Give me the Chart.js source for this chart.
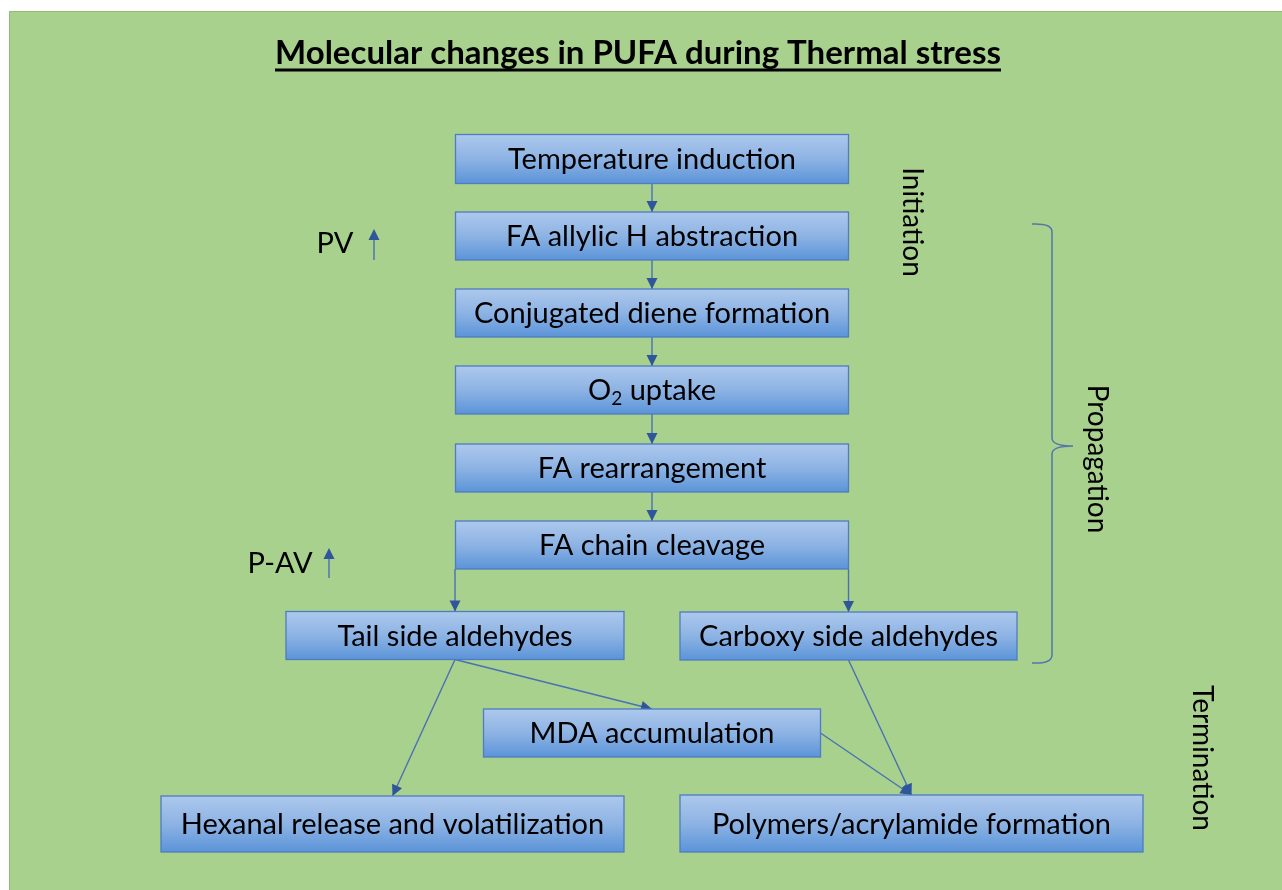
<!DOCTYPE html>
<html>
<head>
<meta charset="utf-8">
<script src="https://cdn.jsdelivr.net/npm/chart.js@4.4.1/dist/chart.umd.min.js"></script>
<style>
  html, body { margin: 0; padding: 0; background: #ffffff; }
  .container { width: 1282px; height: 890px; }
</style>
</head>
<body>
<div class="container"><canvas id="flow" width="1282" height="890"></canvas></div>
<script>
// --- diagram content ---
const title = "Molecular changes in PUFA during Thermal stress";

const stepLabels = [
  "Temperature induction",
  "FA allylic H abstraction",
  "Conjugated diene formation",
  "O\u2082 uptake",
  "FA rearrangement",
  "FA chain cleavage",
  "Tail side aldehydes",
  "Carboxy side aldehydes",
  "MDA accumulation",
  "Hexanal release and volatilization",
  "Polymers/acrylamide formation",
];

// links between steps (index into stepLabels)
const linkFrom = [0, 1, 2, 3, 4, 5, 5, 6, 6, 7, 8];
const linkTo   = [1, 2, 3, 4, 5, 6, 7, 8, 9, 10, 10];

const stageLabels = ["Initiation", "Propagation", "Termination"];
const markerLabels = ["PV", "P-AV"];

// --- layout (diagram units = pixels of the 1282x890 page) ---
const boxX = [652, 652, 652, 652, 652, 652, 455, 848.5, 652, 392.5, 911.5];
const boxY = [159, 236, 313, 390, 468, 545, 635.5, 636, 733, 824, 823.5];
const boxW = [393, 393, 393, 393, 393, 393, 338, 337, 337, 463, 463];
const boxH = [49, 48, 48, 48, 48, 48, 48, 48, 48, 56, 57];
// b = bottom centre, bt = bottom edge above the target centre, r = right middle
const linkStartSide = ["b", "b", "b", "b", "b", "bt", "bt", "b", "b", "b", "r"];
const stagePos = [[912, 222], [1097, 459], [1202, 758]];
const markerPos = [[335, 244], [280, 564]];
const markerArrowX = [374, 329];
const markerArrowY = [[260, 229], [578, 548]];
const brace = { x0: 1032, x1: 1052, tip: 1073, top: 224, mid: 446, bottom: 663 };

const FONT = "Lato";
const LINE_COL = "#4a70b4";
const HEAD_COL = "#2f559a";

function anchorStart(i) {
  const f = linkFrom[i], t = linkTo[i];
  const side = linkStartSide[i];
  if (side === "r") return { x: boxX[f] + boxW[f] / 2, y: boxY[f] };
  const x = side === "bt" ? boxX[t] : boxX[f];
  return { x: x, y: boxY[f] + boxH[f] / 2 };
}
function anchorEnd(i) {
  const t = linkTo[i];
  return { x: boxX[t], y: boxY[t] - boxH[t] / 2 };
}

const linkSets = linkFrom.map((f, i) => ({
  type: "line",
  data: [anchorStart(i), anchorEnd(i)],
  borderColor: LINE_COL,
  borderWidth: 1.4,
  pointRadius: 0,
  showLine: true,
  fill: false,
}));

function drawRich(ctx, text, cx, cy, size, family) {
  // handles the subscript two in "O₂"
  const parts = text.split("\u2082");
  const subFont = Math.round(size * 0.65) + "px " + family;
  let total = 0;
  parts.forEach((p, k) => {
    ctx.font = size + "px " + family;
    total += ctx.measureText(p).width;
    if (k < parts.length - 1) { ctx.font = subFont; total += ctx.measureText("2").width; }
  });
  let x = cx - total / 2;
  ctx.textAlign = "left";
  parts.forEach((p, k) => {
    ctx.font = size + "px " + family;
    ctx.fillText(p, x, cy);
    x += ctx.measureText(p).width;
    if (k < parts.length - 1) {
      ctx.font = subFont;
      ctx.fillText("2", x, cy + size * 0.28);
      x += ctx.measureText("2").width;
    }
  });
}

function arrowHead(ctx, from, to, len, half) {
  const a = Math.atan2(to.y - from.y, to.x - from.x);
  ctx.save();
  ctx.translate(to.x, to.y);
  ctx.rotate(a);
  ctx.beginPath();
  ctx.moveTo(0, 0);
  ctx.lineTo(-len, -half);
  ctx.lineTo(-len, half);
  ctx.closePath();
  ctx.fillStyle = HEAD_COL;
  ctx.fill();
  ctx.restore();
}

const diagramPlugin = {
  id: "diagram",
  beforeDraw(chart) {
    const { ctx, scales: { x, y } } = chart;
    ctx.save();
    ctx.fillStyle = "#ffffff";
    ctx.fillRect(0, 0, chart.width, chart.height);
    const gx = x.getPixelForValue(9), gy = y.getPixelForValue(11);
    ctx.fillStyle = "#a9d18e";
    ctx.fillRect(gx, gy, chart.width - gx, chart.height - gy);
    ctx.strokeStyle = "#8fbe72";
    ctx.lineWidth = 1;
    ctx.beginPath();
    ctx.moveTo(gx + 0.5, chart.height);
    ctx.lineTo(gx + 0.5, gy + 0.5);
    ctx.lineTo(chart.width, gy + 0.5);
    ctx.stroke();

    // title
    ctx.fillStyle = "#000000";
    ctx.font = "bold 33px " + FONT;
    ctx.textAlign = "center";
    ctx.textBaseline = "alphabetic";
    const tx = x.getPixelForValue(638), ty = y.getPixelForValue(64);
    ctx.fillText(title, tx, ty);
    const tw = ctx.measureText(title).width;
    ctx.fillRect(tx - tw / 2, y.getPixelForValue(68.5), tw, 3);
    ctx.restore();
  },
  afterDatasetsDraw(chart) {
    const { ctx, scales: { x, y } } = chart;
    ctx.save();
    // arrow heads
    linkFrom.forEach((f, i) => {
      const s = anchorStart(i), e = anchorEnd(i);
      arrowHead(ctx,
        { x: x.getPixelForValue(s.x), y: y.getPixelForValue(s.y) },
        { x: x.getPixelForValue(e.x), y: y.getPixelForValue(e.y) }, 11, 5.5);
    });

    // boxes
    stepLabels.forEach((label, i) => {
      const l = x.getPixelForValue(boxX[i] - boxW[i] / 2);
      const r = x.getPixelForValue(boxX[i] + boxW[i] / 2);
      const t = y.getPixelForValue(boxY[i] - boxH[i] / 2);
      const b = y.getPixelForValue(boxY[i] + boxH[i] / 2);
      const g = ctx.createLinearGradient(0, t, 0, b);
      g.addColorStop(0, "#adc8ec");
      g.addColorStop(0.5, "#8db3e4");
      g.addColorStop(1, "#5b94d8");
      ctx.fillStyle = g;
      ctx.fillRect(l, t, r - l, b - t);
      ctx.strokeStyle = "#4f7cc2";
      ctx.lineWidth = 1.3;
      ctx.strokeRect(l, t, r - l, b - t);
      ctx.fillStyle = "#000000";
      ctx.textBaseline = "middle";
      drawRich(ctx, label, (l + r) / 2, (t + b) / 2 + 1, 29, FONT);
    });

    // side markers: PV / P-AV with up arrows
    markerLabels.forEach((m, i) => {
      ctx.fillStyle = "#000000";
      ctx.font = "29px " + FONT;
      ctx.textAlign = "center";
      ctx.textBaseline = "middle";
      ctx.fillText(m, x.getPixelForValue(markerPos[i][0]), y.getPixelForValue(markerPos[i][1]));
      const ax = x.getPixelForValue(markerArrowX[i]);
      const y0 = y.getPixelForValue(markerArrowY[i][0]);
      const y1 = y.getPixelForValue(markerArrowY[i][1]);
      ctx.strokeStyle = LINE_COL;
      ctx.lineWidth = 1.4;
      ctx.beginPath();
      ctx.moveTo(ax, y0);
      ctx.lineTo(ax, y1 + 8);
      ctx.stroke();
      arrowHead(ctx, { x: ax, y: y0 }, { x: ax, y: y1 }, 11, 5.5);
    });

    // brace
    const bx0 = x.getPixelForValue(brace.x0), bx1 = x.getPixelForValue(brace.x1);
    const btip = x.getPixelForValue(brace.tip);
    const bt = y.getPixelForValue(brace.top), bm = y.getPixelForValue(brace.mid);
    const bb = y.getPixelForValue(brace.bottom);
    ctx.strokeStyle = "#5576ab";
    ctx.lineWidth = 1.5;
    ctx.beginPath();
    ctx.moveTo(bx0, bt);
    ctx.quadraticCurveTo(bx1, bt - 1, bx1, bt + 8);
    ctx.lineTo(bx1, bm - 8);
    ctx.quadraticCurveTo(bx1, bm, btip, bm);
    ctx.quadraticCurveTo(bx1, bm, bx1, bm + 8);
    ctx.lineTo(bx1, bb - 8);
    ctx.quadraticCurveTo(bx1, bb + 1, bx0, bb);
    ctx.stroke();

    // stage labels, rotated
    stageLabels.forEach((s, i) => {
      ctx.save();
      ctx.translate(x.getPixelForValue(stagePos[i][0]), y.getPixelForValue(stagePos[i][1]));
      ctx.rotate(Math.PI / 2);
      ctx.fillStyle = "#000000";
      ctx.font = "28px " + FONT;
      ctx.textAlign = "center";
      ctx.textBaseline = "middle";
      ctx.fillText(s, 0, 0);
      ctx.restore();
    });
    ctx.restore();
  },
};

new Chart(document.getElementById("flow"), {
  type: "scatter",
  data: { datasets: linkSets },
  options: {
    responsive: false,
    animation: false,
    layout: { padding: 0 },
    scales: {
      x: { type: "linear", min: 0, max: 1282, display: false },
      y: { type: "linear", min: 0, max: 890, reverse: true, display: false },
    },
    plugins: { legend: { display: false }, tooltip: { enabled: false } },
  },
  plugins: [diagramPlugin],
});
</script>
</body>
</html>
